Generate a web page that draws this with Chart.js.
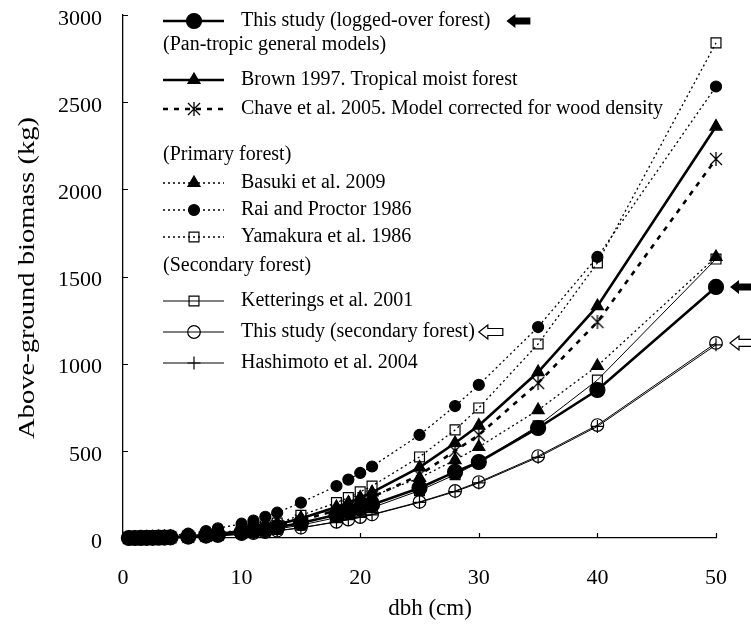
<!DOCTYPE html>
<html>
<head>
<meta charset="utf-8">
<script src="https://cdn.jsdelivr.net/npm/chart.js@4.4.0/dist/chart.umd.min.js"></script>
<style>
  html, body { margin: 0; padding: 0; background: #fff; }
</style>
</head>
<body>
<canvas id="chart" width="751" height="624"></canvas>
<script>
// dbh (cm) where the models were evaluated
const dbh = [0.5, 1, 1.5, 2, 2.5, 3, 3.5, 4, 5.5, 7, 8, 10, 11, 12, 13, 15, 18, 19, 20, 21, 25, 28, 30, 35, 40, 50];

// above-ground biomass (kg)
const thisLogged = [0, 0.1, 0.4, 0.7, 1.2, 1.8, 2.7, 3.7, 8, 14, 19, 33, 41, 50, 61, 86, 133, 151, 170, 191, 287, 379, 436, 631, 849, 1440];
const brown = [0, 0.1, 0.3, 0.7, 1.2, 1.9, 2.8, 4, 9, 16, 23, 40, 51, 64, 78, 112, 178, 203, 232, 262, 405, 545, 645, 952, 1330, 2360];
const chave = [0, 0.1, 0.3, 0.7, 1.1, 1.8, 2.6, 3.7, 8, 15, 21, 37, 46, 58, 70, 101, 159, 182, 207, 234, 361, 500, 591, 889, 1239, 2174];
const basuki = [0.1, 0.3, 0.7, 1.4, 2.2, 3.3, 4.7, 6.3, 13, 21, 29, 47, 58, 70, 84, 115, 171, 192, 216, 240, 345, 447, 522, 734, 987, 1612];
const rai = [0.2, 0.7, 1.6, 3, 4.8, 7, 9.7, 13, 25, 40, 55, 82, 100, 122, 145, 203, 298, 335, 373, 410, 591, 757, 878, 1210, 1612, 2590];
const yamakura = [0, 0.1, 0.3, 0.6, 1.1, 1.8, 2.7, 3.8, 9, 17, 24, 43, 56, 69, 86, 130, 203, 232, 265, 298, 465, 620, 746, 1113, 1578, 2840];
const ketterings = [0, 0.1, 0.2, 0.4, 0.7, 1.2, 1.8, 2.5, 5.6, 10, 15, 26, 33, 42, 51, 74, 117, 135, 154, 174, 272, 363, 434, 644, 906, 1600];
const thisSecondary = [0, 0.1, 0.2, 0.4, 0.7, 1.1, 1.7, 2.3, 5, 9, 13, 22, 28, 34, 42, 59, 93, 106, 120, 135, 207, 270, 321, 470, 648, 1119];
const hashimoto = [0, 0.1, 0.2, 0.4, 0.7, 1.1, 1.6, 2.2, 5, 9, 12, 21, 27, 33, 41, 58, 92, 105, 118, 133, 204, 266, 316, 463, 640, 1108];

const xTicks = [0, 10, 20, 30, 40, 50];
const yTicks = [0, 500, 1000, 1500, 2000, 2500, 3000];

const SERIF = '"Liberation Serif", "Times New Roman", serif';

// asterisk-like marker (X with a vertical bar) for Chave et al.
function makeChaveMarker() {
    const c = document.createElement('canvas');
    c.width = 16; c.height = 16;
    const g = c.getContext('2d');
    g.strokeStyle = '#000';
    g.lineWidth = 1.3;
    g.beginPath();
    g.moveTo(2, 2); g.lineTo(14, 14);
    g.moveTo(14, 2); g.lineTo(2, 14);
    g.moveTo(8, 1); g.lineTo(8, 15);
    g.stroke();
    return c;
}

function pts(values) {
    return dbh.map((d, i) => ({ x: d, y: values[i] }));
}

function series(label, values, style) {
    return Object.assign({
        label: label,
        data: pts(values),
        borderColor: '#000',
        backgroundColor: '#000',
        pointBorderColor: '#000',
        pointBackgroundColor: '#000',
        borderWidth: 1,
        pointBorderWidth: 1.2,
        tension: 0,
        clip: false
    }, style);
}

const datasets = [
    series('This study (logged-over forest)', thisLogged, { borderWidth: 2.6, pointStyle: 'circle', pointRadius: 7.5 }),
    series('Brown 1997. Tropical moist forest', brown, { borderWidth: 2.6, pointStyle: 'triangle', pointRadius: 7 }),
    series('Chave et al. 2005. Model corrected for wood density', chave, { borderWidth: 2.6, borderDash: [5, 6], pointStyle: makeChaveMarker(), pointRadius: 7 }),
    series('Basuki et al. 2009', basuki, { borderWidth: 1.3, borderDash: [2, 3], pointStyle: 'triangle', pointRadius: 7 }),
    series('Rai and Proctor 1986', rai, { borderWidth: 1.3, borderDash: [2, 3], pointStyle: 'circle', pointRadius: 5.5 }),
    series('Yamakura et al. 1986', yamakura, { borderWidth: 1.3, borderDash: [2, 3], pointStyle: 'rect', pointRadius: 7, pointBackgroundColor: 'rgba(0,0,0,0)' }),
    series('Ketterings et al. 2001', ketterings, { borderWidth: 1, pointStyle: 'rect', pointRadius: 7, pointBackgroundColor: 'rgba(0,0,0,0)' }),
    series('This study (secondary forest)', thisSecondary, { borderWidth: 1, pointStyle: 'circle', pointRadius: 6.3, pointBackgroundColor: 'rgba(0,0,0,0)' }),
    series('Hashimoto et al. 2004', hashimoto, { borderWidth: 1, pointStyle: 'cross', pointRadius: 6.5 })
];

// legend rows: either a heading text or a dataset index
const legendRows = [
    { y: 21, ds: 0, arrow: 'filled', gap: 16 },
    { y: 45, text: '(Pan-tropic general models)' },
    { y: 80, ds: 1 },
    { y: 109, ds: 2 },
    { y: 155, text: '(Primary forest)' },
    { y: 183, ds: 3 },
    { y: 210, ds: 4 },
    { y: 237, ds: 5 },
    { y: 266, text: '(Secondary forest)' },
    { y: 301, ds: 6 },
    { y: 332, ds: 7, arrow: 'open', gap: 4 },
    { y: 363, ds: 8 }
];

function blockArrow(ctx, tipX, y, filled) {
    const len = 24, headLen = 9, headH = 14, shaftH = 7;
    ctx.save();
    ctx.beginPath();
    ctx.moveTo(tipX, y);
    ctx.lineTo(tipX + headLen, y - headH / 2);
    ctx.lineTo(tipX + headLen, y - shaftH / 2);
    ctx.lineTo(tipX + len, y - shaftH / 2);
    ctx.lineTo(tipX + len, y + shaftH / 2);
    ctx.lineTo(tipX + headLen, y + shaftH / 2);
    ctx.lineTo(tipX + headLen, y + headH / 2);
    ctx.closePath();
    if (filled) {
        ctx.fillStyle = '#000';
        ctx.fill();
    } else {
        ctx.fillStyle = '#fff';
        ctx.fill();
        ctx.lineWidth = 1.2;
        ctx.strokeStyle = '#000';
        ctx.stroke();
    }
    ctx.restore();
}

const decorations = {
    id: 'decorations',
    afterDraw(chart) {
        const ctx = chart.ctx;
        const xs = chart.scales.x, ys = chart.scales.y;
        const left = xs.left, bottom = ys.bottom;

        // inward tick marks
        ctx.save();
        ctx.strokeStyle = '#000';
        ctx.lineWidth = 1.2;
        ctx.beginPath();
        xTicks.forEach(v => {
            const px = Math.round(xs.getPixelForValue(v)) + 0.5;
            ctx.moveTo(px, bottom); ctx.lineTo(px, bottom - 5);
        });
        yTicks.forEach(v => {
            const py = Math.round(ys.getPixelForValue(v)) + 0.5;
            ctx.moveTo(left, py); ctx.lineTo(left + 5, py);
        });
        ctx.stroke();

        // axis titles
        ctx.fillStyle = '#000';
        ctx.font = '23px ' + SERIF;
        ctx.textAlign = 'center';
        ctx.textBaseline = 'middle';
        ctx.fillText('dbh (cm)', 430, 609);
        const yTitle = 'Above-ground biomass (kg)';
        ctx.font = '24px ' + SERIF;
        const stretch = 322 / ctx.measureText(yTitle).width;
        ctx.save();
        ctx.translate(28, 278);
        ctx.rotate(-Math.PI / 2);
        ctx.scale(stretch, 1);
        ctx.fillText(yTitle, 0, 0);
        ctx.restore();

        // legend
        ctx.font = '20px ' + SERIF;
        ctx.textAlign = 'left';
        legendRows.forEach(row => {
            if (row.text) {
                ctx.fillStyle = '#000';
                ctx.fillText(row.text, 163, row.y);
                return;
            }
            const ds = chart.data.datasets[row.ds];
            ctx.save();
            ctx.strokeStyle = '#000';
            ctx.lineWidth = ds.borderWidth;
            ctx.setLineDash(ds.borderDash || []);
            ctx.beginPath();
            ctx.moveTo(163, row.y); ctx.lineTo(224, row.y);
            ctx.stroke();
            ctx.setLineDash([]);
            ctx.fillStyle = ds.pointBackgroundColor;
            ctx.strokeStyle = '#000';
            ctx.lineWidth = ds.pointBorderWidth;
            Chart.helpers.drawPoint(ctx, { pointStyle: ds.pointStyle, radius: ds.pointRadius, rotation: 0, borderWidth: ds.pointBorderWidth }, 194, row.y);
            ctx.restore();
            ctx.fillStyle = '#000';
            ctx.fillText(ds.label, 241, row.y);
            if (row.arrow) {
                const w = ctx.measureText(ds.label).width;
                blockArrow(ctx, 241 + w + row.gap, row.y, row.arrow === 'filled');
            }
        });

        // arrows pointing at this study's curves at dbh 50
        const xEnd = xs.getPixelForValue(dbh[dbh.length - 1]) + 14;
        blockArrow(ctx, xEnd, ys.getPixelForValue(thisLogged[thisLogged.length - 1]), true);
        blockArrow(ctx, xEnd, ys.getPixelForValue(thisSecondary[thisSecondary.length - 1]), false);
        ctx.restore();
    }
};

new Chart(document.getElementById('chart').getContext('2d'), {
    type: 'line',
    data: { datasets: datasets },
    options: {
        responsive: false,
        animation: false,
        layout: { padding: { top: 15, right: 35, left: 0, bottom: 0 } },
        scales: {
            x: {
                type: 'linear',
                min: 0, max: 50,
                afterFit: s => { s.height = 86; s.paddingLeft = 0; s.paddingRight = 0; },
                afterBuildTicks: s => { s.ticks = xTicks.map(v => ({ value: v })); },
                grid: { display: false, drawTicks: false },
                border: { display: true, color: '#000', width: 1.3 },
                ticks: { color: '#000', padding: 27, font: { family: SERIF, size: 22 }, callback: v => String(v) }
            },
            y: {
                type: 'linear',
                min: 0, max: 3000,
                afterFit: s => { s.width = 123; s.paddingTop = 0; s.paddingBottom = 0; },
                afterBuildTicks: s => { s.ticks = yTicks.map(v => ({ value: v })); },
                grid: { display: false, drawTicks: false },
                border: { display: true, color: '#000', width: 1.3 },
                ticks: { color: '#000', padding: 21, labelOffset: 4, font: { family: SERIF, size: 22 }, callback: v => String(v) }
            }
        },
        plugins: {
            legend: { display: false },
            tooltip: { enabled: false }
        }
    },
    plugins: [decorations]
});
</script>
</body>
</html>
